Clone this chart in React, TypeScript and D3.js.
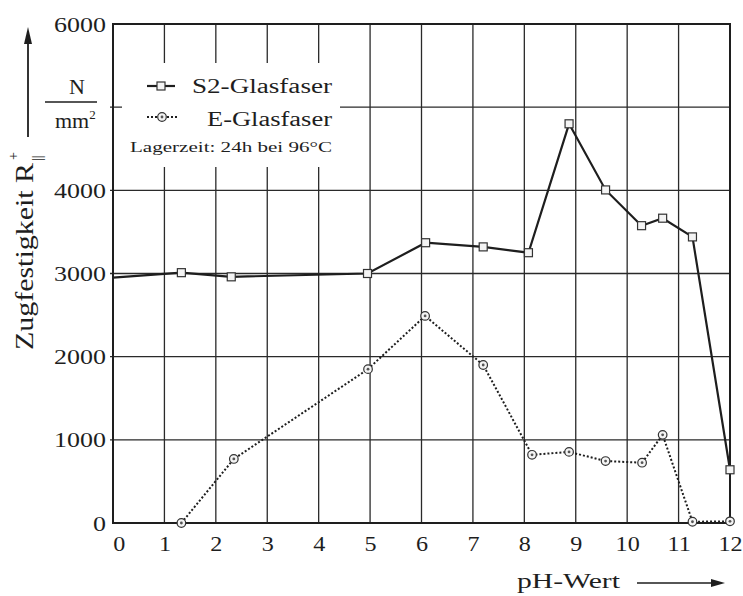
import React, { useEffect, useRef } from 'react';
import * as d3 from 'd3';

// pH values and tensile strength (N/mm²)
const phS2 = [0, 1.33, 2.3, 4.95, 6.08, 7.2, 8.08, 8.87, 9.58, 10.28, 10.69, 11.27, 12];
const strengthS2 = [2950, 3010, 2960, 3000, 3370, 3320, 3250, 4800, 4005, 3575, 3665, 3440, 640];

const phE = [1.33, 2.35, 4.96, 6.07, 7.2, 8.15, 8.87, 9.58, 10.29, 10.69, 11.27, 12];
const strengthE = [0, 770, 1850, 2490, 1900, 820, 855, 745, 725, 1060, 15, 20];

const xTicks = d3.range(0, 13);
const yGrid = [0, 1000, 2000, 3000, 4000, 5000, 6000];
// 5000 carries the unit fraction instead of a number
const yLabels = [0, 1000, 2000, 3000, 4000, 6000];

const FONT = '"Liberation Serif", "DejaVu Serif", serif';
const INK = '#1e1e1e';

export default function App() {
  const svgRef = useRef<SVGSVGElement>(null);

  useEffect(() => {
    const width = 743;
    const height = 596;
    const plot = { left: 113, right: 730, top: 24, bottom: 523 };

    const svg = d3.select(svgRef.current);
    svg.selectAll('*').remove();
    svg.attr('width', width).attr('height', height);

    svg.append('rect').attr('width', width).attr('height', height).attr('fill', '#fff');

    const x = d3.scaleLinear().domain([0, 12]).range([plot.left, plot.right]);
    const y = d3.scaleLinear().domain([0, 6000]).range([plot.bottom, plot.top]);

    // grid
    const grid = svg.append('g').attr('stroke', '#2a2a2a').attr('stroke-width', 1.3);
    xTicks.slice(1, -1).forEach(t => {
      grid.append('line')
        .attr('x1', x(t)).attr('x2', x(t))
        .attr('y1', y(0)).attr('y2', y(6000));
    });
    yGrid.slice(1, -1).forEach(t => {
      grid.append('line')
        .attr('x1', x(0) - 3).attr('x2', x(12))
        .attr('y1', y(t)).attr('y2', y(t));
    });

    // legend background hides the grid behind it
    svg.append('rect')
      .attr('x', 122).attr('y', 63)
      .attr('width', 218).attr('height', 104)
      .attr('fill', '#fff');

    // frame
    svg.append('rect')
      .attr('x', plot.left).attr('y', plot.top)
      .attr('width', plot.right - plot.left)
      .attr('height', plot.bottom - plot.top)
      .attr('fill', 'none')
      .attr('stroke', INK)
      .attr('stroke-width', 2);

    // axes labels
    const yAxis = svg.append('g')
      .attr('transform', `translate(${plot.left},0)`)
      .call(d3.axisLeft(y).tickValues(yLabels).tickSize(0).tickPadding(6).tickFormat(d3.format('d')));
    yAxis.select('.domain').remove();
    yAxis.selectAll('text')
      .attr('transform', 'scale(1.18,1)')
      .style('font-family', FONT)
      .style('font-size', '22px')
      .style('fill', INK);

    const xAxis = svg.append('g')
      .attr('transform', `translate(0,${plot.bottom})`)
      .call(d3.axisBottom(x).tickValues(xTicks).tickSize(0).tickPadding(13).tickFormat(d3.format('d')));
    xAxis.select('.domain').remove();
    xAxis.selectAll('text')
      .attr('transform', 'scale(1.15,1)')
      .style('font-family', FONT)
      .style('font-size', '21px')
      .style('fill', INK);
    xAxis.selectAll('text').filter((d: any) => d === 0).attr('x', 5);

    // lines
    const s2Data = phS2.map((p, i) => ({ p, v: strengthS2[i] }));
    const eData = phE.map((p, i) => ({ p, v: strengthE[i] }));
    const line = d3.line<{ p: number; v: number }>().x(d => x(d.p)).y(d => y(d.v));

    svg.append('path')
      .datum(eData)
      .attr('d', line)
      .attr('fill', 'none')
      .attr('stroke', INK)
      .attr('stroke-width', 2)
      .attr('stroke-dasharray', '2,2');

    svg.append('path')
      .datum(s2Data)
      .attr('d', line)
      .attr('fill', 'none')
      .attr('stroke', INK)
      .attr('stroke-width', 2.2);

    const drawSquare = (g: any, cx: number, cy: number) => {
      g.append('rect')
        .attr('x', cx - 4).attr('y', cy - 4)
        .attr('width', 8).attr('height', 8)
        .attr('fill', '#f4f4f4')
        .attr('stroke', '#333')
        .attr('stroke-width', 1.2);
    };
    const drawCircle = (g: any, cx: number, cy: number) => {
      g.append('circle')
        .attr('cx', cx).attr('cy', cy).attr('r', 4.3)
        .attr('fill', '#f4f4f4')
        .attr('stroke', '#333')
        .attr('stroke-width', 1.2);
      g.append('circle')
        .attr('cx', cx).attr('cy', cy).attr('r', 1.4)
        .attr('fill', '#555');
    };

    const markers = svg.append('g');
    s2Data.slice(1).forEach(d => drawSquare(markers, x(d.p), y(d.v)));
    eData.forEach(d => drawCircle(markers, x(d.p), y(d.v)));

    // legend
    const legend = svg.append('g');
    legend.append('line')
      .attr('x1', 147).attr('x2', 175).attr('y1', 86).attr('y2', 86)
      .attr('stroke', INK).attr('stroke-width', 2.2);
    drawSquare(legend, 161, 86);
    legend.append('line')
      .attr('x1', 147).attr('x2', 177).attr('y1', 117).attr('y2', 117)
      .attr('stroke', INK).attr('stroke-width', 2).attr('stroke-dasharray', '2,2');
    drawCircle(legend, 162, 117);

    const legendText = [
      { text: 'S2-Glasfaser', x: 192, y: 93, size: 20, len: 140 },
      { text: 'E-Glasfaser', x: 207, y: 126, size: 20, len: 125 },
      { text: 'Lagerzeit: 24h bei 96°C', x: 130, y: 152, size: 15, len: 202 },
    ];
    legendText.forEach(t => {
      legend.append('text')
        .attr('x', t.x).attr('y', t.y)
        .attr('textLength', t.len)
        .attr('lengthAdjust', 'spacingAndGlyphs')
        .style('font-family', FONT)
        .style('font-size', `${t.size}px`)
        .style('fill', INK)
        .text(t.text);
    });

    // x axis title with arrow
    svg.append('text')
      .attr('x', 517).attr('y', 588)
      .attr('textLength', 103)
      .attr('lengthAdjust', 'spacingAndGlyphs')
      .style('font-family', FONT)
      .style('font-size', '20px')
      .style('fill', INK)
      .text('pH-Wert');
    svg.append('line')
      .attr('x1', 637).attr('x2', 714).attr('y1', 583).attr('y2', 583)
      .attr('stroke', INK).attr('stroke-width', 1.6);
    svg.append('path')
      .attr('d', 'M725,583 L711,579 L711,587 Z')
      .attr('fill', INK);

    // y axis title with arrow
    const yTitle = svg.append('g').attr('transform', 'translate(33,350) rotate(-90)');
    yTitle.append('text')
      .attr('x', 0).attr('y', 0)
      .attr('textLength', 187)
      .attr('lengthAdjust', 'spacingAndGlyphs')
      .style('font-family', FONT)
      .style('font-size', '26px')
      .style('fill', INK)
      .text('Zugfestigkeit R');
    yTitle.append('text')
      .attr('x', 190).attr('y', -15)
      .style('font-family', FONT)
      .style('font-size', '14px')
      .style('fill', INK)
      .text('+');
    yTitle.append('text')
      .attr('x', 189).attr('y', 9)
      .style('font-family', FONT)
      .style('font-size', '14px')
      .style('fill', INK)
      .text('||');

    svg.append('line')
      .attr('x1', 28).attr('x2', 28).attr('y1', 137).attr('y2', 40)
      .attr('stroke', INK).attr('stroke-width', 1.8);
    svg.append('path')
      .attr('d', 'M28,27 L24,44 L32,44 Z')
      .attr('fill', INK);

    // unit fraction
    svg.append('text')
      .attr('x', 77).attr('y', 94)
      .attr('text-anchor', 'middle')
      .style('font-family', FONT)
      .style('font-size', '22px')
      .style('fill', INK)
      .text('N');
    svg.append('line')
      .attr('x1', 45).attr('x2', 97).attr('y1', 102).attr('y2', 102)
      .attr('stroke', INK).attr('stroke-width', 1.4);
    const unit = svg.append('text')
      .attr('x', 55).attr('y', 128)
      .style('font-family', FONT)
      .style('font-size', '22px')
      .style('fill', INK);
    unit.append('tspan').text('mm');
    unit.append('tspan').attr('dy', -9).style('font-size', '13px').text('2');
  }, []);

  return (
    <svg ref={svgRef} style={{ position: 'absolute', left: 0, top: 0, display: 'block' }} />
  );
}
